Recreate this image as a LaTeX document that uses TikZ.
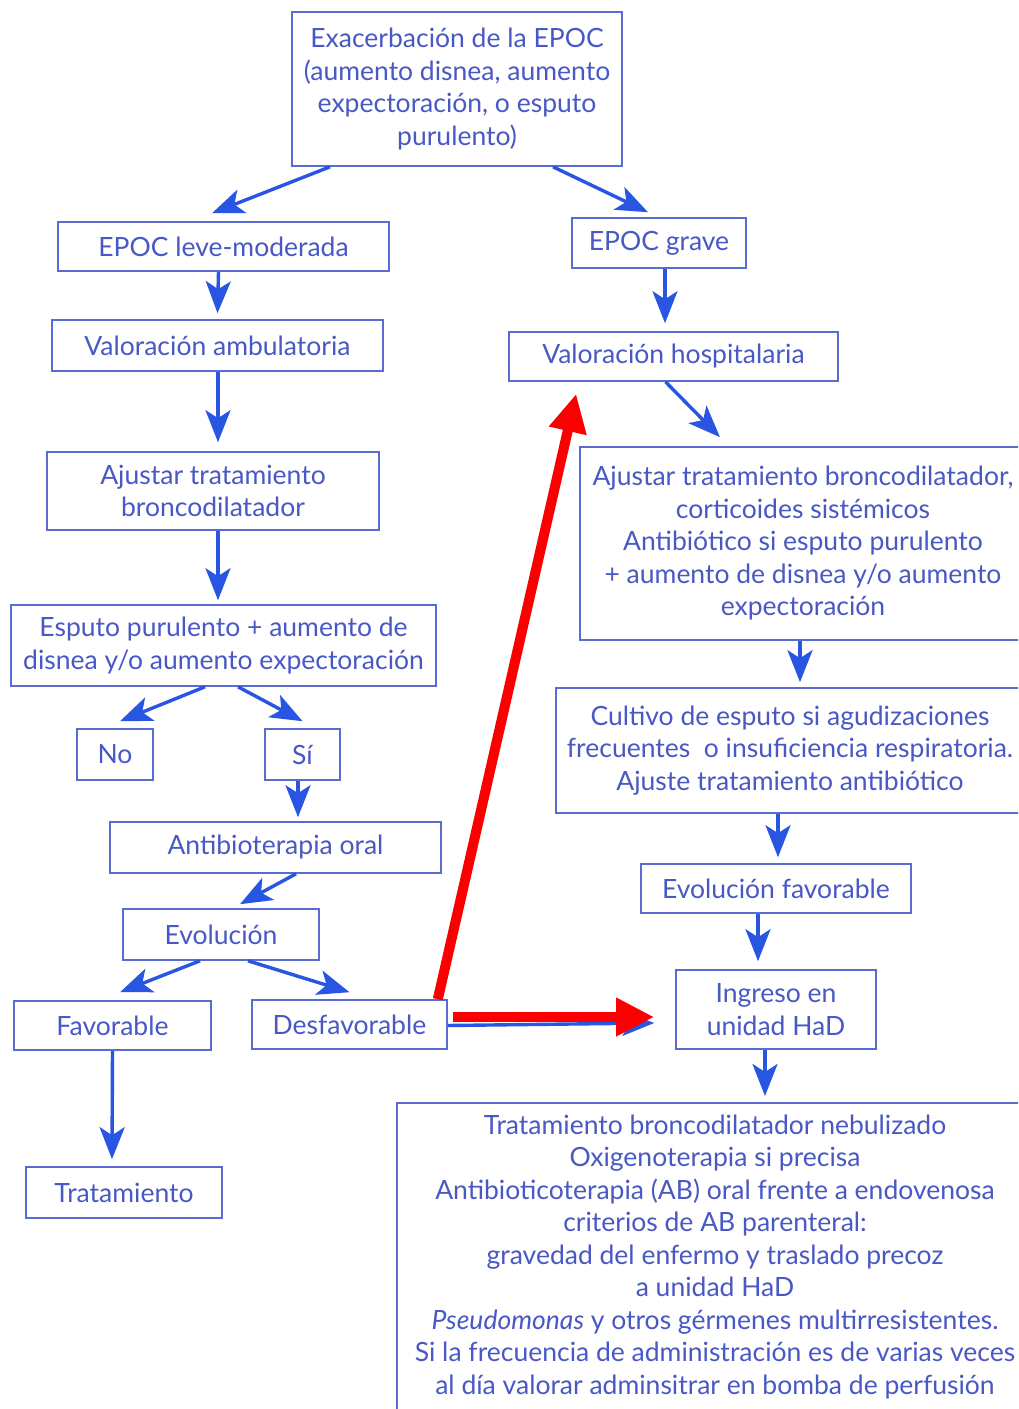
\documentclass[tikz,border=0pt]{standalone}
\usepackage{fontspec}
\setmainfont{Lato}
\usetikzlibrary{arrows.meta}
\definecolor{txtblue}{RGB}{72,88,196}
\definecolor{linblue}{RGB}{88,108,212}
\definecolor{arrblue}{RGB}{40,86,226}
\definecolor{redarr}{RGB}{250,0,0}
\tikzset{
  box/.style={draw=linblue, line width=1.6pt, inner sep=0pt, align=center, text=txtblue,
    font=\fontsize{26.5}{32.5}\selectfont},
  arr/.style={draw=arrblue, line width=3.4pt, -{Stealth[length=32pt,width=25pt,inset=8pt]}},
  redar/.style={draw=redarr, line width=10pt, -{Triangle[length=38pt,width=36pt]}}
}
\begin{document}
\begin{tikzpicture}[x=1pt,y=-1pt]
\clip (0,0) rectangle (1018,1409);
\fill[white] (0,0) rectangle (1018,1409);
\node[box, minimum width=330, minimum height=154] (top) at (457,89) {Exacerbación de la EPOC\\(aumento disnea, aumento\\expectoración, o esputo\\purulento)};
\node[box, minimum width=331, minimum height=49] (leve) at (223.5,246.5) {EPOC leve-moderada};
\node[box, minimum width=174, minimum height=50] (grave) at (659,243) {EPOC grave};
\node[box, minimum width=331, minimum height=51] (vamb) at (217.5,345.5) {Valoración ambulatoria};
\node[box, minimum width=329, minimum height=49] (vhosp) at (673.5,356.5) {Valoración hospitalaria};
\node[box, minimum width=332, minimum height=78] (ajL) at (213,491) {Ajustar tratamiento\\broncodilatador};
\node[box, minimum width=446, minimum height=193] (ajR) at (803,543.5) {Ajustar tratamiento broncodilatador,\\corticoides sistémicos\\Antibiótico si esputo purulento\\+ aumento de disnea y/o aumento\\expectoración};
\node[box, minimum width=425, minimum height=81] (esp) at (223.5,645.5) {Esputo purulento + aumento de\\disnea y/o aumento expectoración};
\node[box, minimum width=76, minimum height=51] (no) at (115,754.5) {No};
\node[box, minimum width=75, minimum height=51] (si) at (302.5,754.5) {Sí};
\node[box, minimum width=331, minimum height=51] (anti) at (275.5,847.5) {Antibioterapia oral};
\node[box, minimum width=468, minimum height=125] (cult) at (790,750.5) {Cultivo de esputo si agudizaciones\\frecuentes\ \ o insuficiencia respiratoria.\\Ajuste tratamiento antibiótico};
\node[box, minimum width=196, minimum height=51] (evol) at (221,934.5) {Evolución};
\node[box, minimum width=270, minimum height=49] (evfav) at (776,888.5) {Evolución favorable};
\node[box, minimum width=197, minimum height=49] (fav) at (112.5,1025.5) {Favorable};
\node[box, minimum width=195, minimum height=49] (desf) at (349.5,1024.5) {Desfavorable};
\node[box, minimum width=200, minimum height=79] (ingreso) at (776,1009.5) {Ingreso en\\unidad HaD};
\node[box, minimum width=196, minimum height=51] (trat) at (124,1192.5) {Tratamiento};
\node[box, anchor=north, minimum width=636, inner ysep=12pt] (bot) at (715,1102) {Tratamiento broncodilatador nebulizado\\Oxigenoterapia si precisa\\Antibioticoterapia (AB) oral frente a endovenosa\\criterios de AB parenteral:\\gravedad del enfermo y traslado precoz\\a unidad HaD\\\textit{Pseudomonas} y otros gérmenes multirresistentes.\\Si la frecuencia de administración es de varias veces\\al día valorar adminsitrar en bomba de perfusión\\[20pt]};
% blue arrows
\draw[arr] ([xshift=-127]top.south) -- ([xshift=-11.5,yshift=8]leve.north);
\draw[arr] ([xshift=96]top.south) -- ([xshift=-11,yshift=5]grave.north);
\draw[arr] ([xshift=-5]leve.south) -- ([yshift=6]vamb.north);
\draw[arr] ([xshift=6]grave.south) -- ([xshift=-8.5,yshift=8]vhosp.north);
\draw[arr] ([xshift=0.5]vamb.south) -- ([xshift=5,yshift=9]ajL.north);
\draw[arr] ([xshift=-8]vhosp.south) -- ([xshift=-83,yshift=9]ajR.north);
\draw[arr] ([xshift=5]ajL.south) -- ([xshift=-5.5,yshift=4]esp.north);
\draw[arr] ([xshift=-3]ajR.south) -- ([xshift=10,yshift=5]cult.north);
\draw[arr] ([xshift=-18.5]esp.south) -- ([xshift=5,yshift=7]no.north);
\draw[arr] ([xshift=14.5]esp.south) -- ([yshift=7]si.north);
\draw[arr] ([xshift=-4.5]si.south) -- ([xshift=22.5,yshift=4]anti.north);
\draw[arr] ([xshift=-12]cult.south) -- ([xshift=2,yshift=6]evfav.north);
\draw[arr] ([xshift=20.5]anti.south) -- ([xshift=19,yshift=4]evol.north);
\draw[arr] ([xshift=-18]evfav.south) -- ([xshift=-18,yshift=8]ingreso.north);
\draw[arr] ([xshift=-21]evol.south) -- ([xshift=7.5,yshift=8]fav.north);
\draw[arr] ([xshift=27]evol.south) -- ([yshift=7]desf.north);
\draw[arr] (fav.south) -- ([xshift=-12,yshift=7]trat.north);
\draw[arr] ([xshift=-11]ingreso.south) -- ([xshift=50,yshift=6]bot.north);
\draw[arr] ([yshift=-1]desf.east) -- ([xshift=-21,yshift=-13.5]ingreso.west);
% red arrows
\draw[redar] ([xshift=5,yshift=7.5]desf.east) -- ([xshift=-21,yshift=-7.5]ingreso.west);
\draw[redar] ([xshift=-10]desf.north east) -- ([xshift=68,yshift=-12]vhosp.south west);
\end{tikzpicture}
\end{document}
